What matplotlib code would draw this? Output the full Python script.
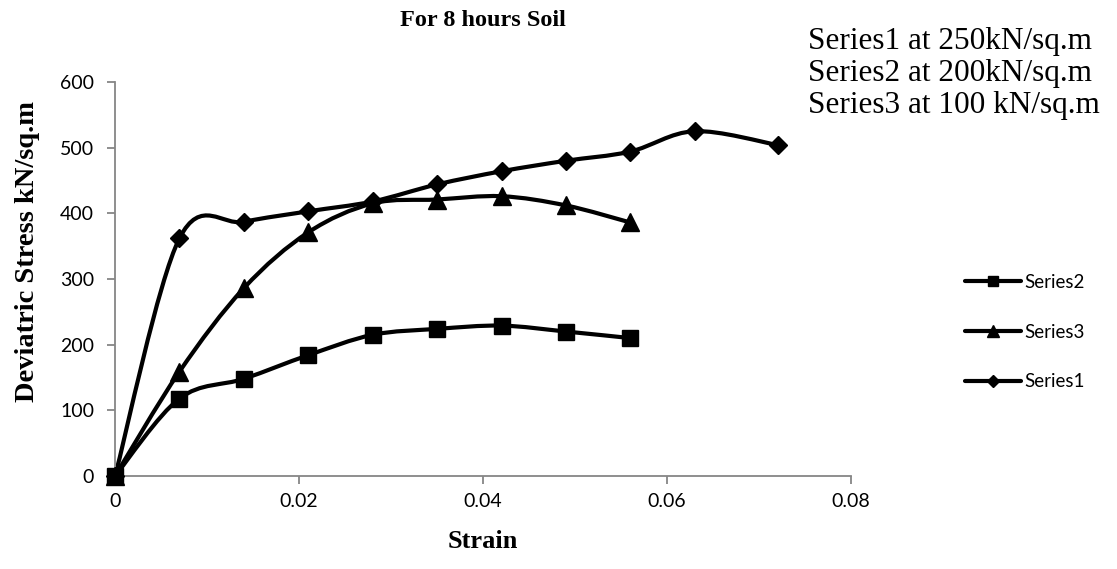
import numpy as np
import matplotlib
matplotlib.use('Agg')
import matplotlib.pyplot as plt
from matplotlib.path import Path
from matplotlib.patches import PathPatch
from matplotlib.lines import Line2D

# strain values
strain_long = [0, 0.007, 0.014, 0.021, 0.028, 0.035, 0.042, 0.049, 0.056, 0.063, 0.072]
strain_short = [0, 0.007, 0.014, 0.021, 0.028, 0.035, 0.042, 0.049, 0.056]

# deviatric stress (kN/sq.m)
series1 = [0, 362, 387, 403, 418, 444, 464, 480, 494, 525, 504]
series2 = [0, 118, 148, 184, 215, 224, 229, 220, 210]
series3 = [0, 159, 286, 371, 415, 421, 426, 412, 386]

series_names = ['Series2', 'Series3', 'Series1']
notes = ['Series1 at 250kN/sq.m', 'Series2 at 200kN/sq.m', 'Series3 at 100 kN/sq.m']

x_ticks = [0, 0.02, 0.04, 0.06, 0.08]
x_tick_labels = ['0', '0.02', '0.04', '0.06', '0.08']
y_ticks = [0, 100, 200, 300, 400, 500, 600]

serif = ['Liberation Serif', 'DejaVu Serif']
sans = ['Lato', 'DejaVu Sans']
grey = '#868686'


def smooth_path(xs, ys, t=1 / 6):
    # excel-like smoothed line: bezier segments through the data points
    pts = np.column_stack([xs, ys]).astype(float)
    n = len(pts)
    verts = [pts[0]]
    codes = [Path.MOVETO]
    for i in range(n - 1):
        p_prev = pts[max(i - 1, 0)]
        p0 = pts[i]
        p1 = pts[i + 1]
        p_next = pts[min(i + 2, n - 1)]
        c1 = p0 + (p1 - p_prev) * t
        c2 = p1 - (p_next - p0) * t
        verts += [c1, c2, p1]
        codes += [Path.CURVE4] * 3
    return Path(verts, codes)


fig = plt.figure(figsize=(11.17, 5.69), dpi=100)
ax = fig.add_axes([0.103, 0.1634, 0.659, 0.6926])

data = [
    (strain_short, series2, 's', 12),
    (strain_short, series3, '^', 13),
    (strain_long, series1, 'D', 9),
]

handles = []
for (xs, ys, mk, ms), name in zip(data, series_names):
    patch = PathPatch(smooth_path(xs, ys), facecolor='none', edgecolor='black',
                      lw=3, capstyle='round', joinstyle='round', clip_on=False)
    ax.add_patch(patch)
    ax.plot(xs, ys, ls='none', marker=mk, ms=ms, color='black', clip_on=False, zorder=3)
    handles.append(Line2D([], [], color='black', lw=3, marker=mk, ms=ms * 0.65,
                          solid_capstyle='round', label=name))

ax.set_xlim(0, 0.08)
ax.set_ylim(0, 600)
ax.set_xticks(x_ticks)
ax.set_xticklabels(x_tick_labels)
ax.set_yticks(y_ticks)

for side in ['top', 'right']:
    ax.spines[side].set_visible(False)
for side in ['left', 'bottom']:
    ax.spines[side].set_color(grey)
    ax.spines[side].set_linewidth(1.3)
ax.tick_params(axis='both', direction='out', length=6, width=1.3, color=grey,
               labelsize=14)
ax.tick_params(axis='y', pad=9)
ax.tick_params(axis='x', pad=6)
for lbl in ax.get_xticklabels() + ax.get_yticklabels():
    lbl.set_family(sans)

fig.text(483 / 1117, 1 - 20 / 569, 'For 8 hours Soil', ha='center', va='center',
         family=serif, weight='bold', fontsize=17.5)
fig.text(483 / 1117, 1 - 541 / 569, 'Strain', ha='center', va='center',
         family=serif, weight='bold', fontsize=19)
fig.text(28 / 1117, 1 - 252 / 569, 'Deviatric Stress kN/sq.m', ha='center', va='center',
         rotation=90, family=serif, weight='bold', fontsize=20.5)

for i, note in enumerate(notes):
    fig.text(808 / 1117, 1 - (41 + 32 * i) / 569, note, ha='left', va='center',
             family=serif, fontsize=22.5)

leg = fig.legend(handles=handles, loc='center left',
                 bbox_to_anchor=(965 / 1117, 1 - 332 / 569), frameon=False,
                 prop={'family': sans, 'size': 13.5}, handlelength=3.0,
                 handletextpad=0.15, labelspacing=1.75, borderpad=0, borderaxespad=0)

fig.savefig('out.png', dpi=100)
